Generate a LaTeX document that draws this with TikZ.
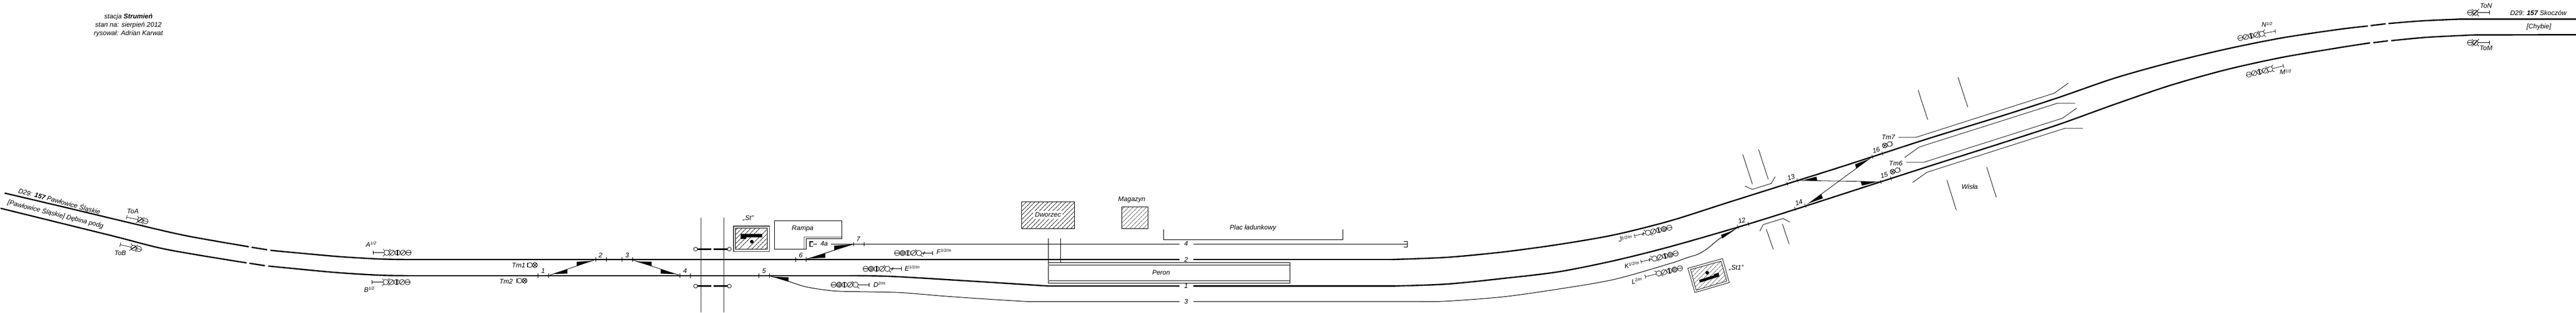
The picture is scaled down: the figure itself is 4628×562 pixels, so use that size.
\documentclass[tikz,border=0pt]{standalone}
\usepackage{fontspec}
\setmainfont{Liberation Sans}
\usetikzlibrary{patterns.meta}

\tikzset{
  trackmain/.style={line width=2.4pt},
  trackthin/.style={line width=1pt},
  planline/.style={line width=.8pt},
  swtick/.style={line width=.7pt},
  sigline/.style={line width=.7pt},
  wedge/.style={fill=black},
  lab/.style={inner sep=0pt},
  hatchbox/.style={line width=.8pt,pattern={Lines[angle=45,distance=5.4pt,line width=.6pt]}},
}

% one lamp of a signal, drawn at the origin of its scope
\newcommand{\lampO}{\draw[sigline] (0,0) circle (4.8pt);}
\newcommand{\lampStubs}{\draw[sigline] (-3.3,-3.3)--(-6.5,-6.5) (3.3,3.3)--(6.5,6.5);}
\newcommand{\lampQ}{\lampO\lampStubs}
\newcommand{\lampX}{\lampO\lampStubs\draw[sigline] (-3.3,3.3)--(-6.5,6.5) (3.3,-3.3)--(6.5,-6.5);}
\newcommand{\lampS}{\lampO\draw[sigline] (-3.8,3.8)--(3.8,-3.8);}
\newcommand{\lampT}{\lampX\draw[line width=1.6pt] (-3.4,3.4)--(3.4,-3.4);}
\newcommand{\lampH}{\lampO\draw[sigline] (-4.8,0)--(4.8,0);}
\newcommand{\lampV}{\lampO\draw[line width=2pt] (0,-4.6)--(0,4.6);}
\newcommand{\lampD}{\draw[sigline,pattern={Lines[angle=45,distance=1.8pt,line width=.6pt]}] (0,0) circle (4.8pt);}
\newcommand{\shuntbar}{\draw[line width=1.2pt] (14.5,2.8)--(17,-2.8);}

% x, y, angle of the mast, then the lamps counted from the mast
\newcommand{\sigchain}[5][]{%
  \begin{scope}[shift={(#2,#3)},rotate=#4]
    \draw[sigline] (0,-3.6)--(0,3.6) (0,0)--(20,0);
    #1
    \foreach \lampdraw [count=\n] in {#5} {
      \begin{scope}[xshift={24.7+(\n-1)*9.8}] \lampdraw \end{scope}
    }
  \end{scope}}

% shunting signal
\newcommand{\tmsig}[3]{%
  \begin{scope}[shift={(#1,#2)},rotate=#3]
    \draw[sigline] (0,-3.6)--(0,3.6);
    \draw[sigline] (4.7,0) circle (4.4pt);
    \draw[line width=.9pt] (13.7,0) circle (4.4pt);
    \draw[line width=.9pt] (10.6,-3.1)--(16.8,3.1) (10.6,3.1)--(16.8,-3.1);
  \end{scope}}

\newcommand{\supr}[2]{#1\raisebox{3.5pt}{\fontsize{7.5}{8}\selectfont #2}}

\begin{document}
\begin{tikzpicture}[x=1pt,y=-1pt,font=\itshape\fontsize{12}{13}\selectfont]
  \useasboundingbox (0,0) rectangle (4628,562);

  % main tracks, upper line
  \draw[trackmain] plot[smooth] coordinates {(8.3,346.7) (120,373) (233,400) (333,423) (447,443)};
  \draw[trackmain] (452,444)--(480,448.5);
  \draw[trackmain] plot[smooth] coordinates {(486,449.5) (600,460) (680,465) (733,466)} -- (2119,466);
  \draw[trackmain] (2144,466)--(2500,466);
  \draw[trackmain] plot[smooth] coordinates {(2500,466) (2600,462) (2700,452.5) (2800,439) (2900,421.7) (3000,396.7) (3100,365) (3211,330) (3300,302) (3363,281.7) (3467,248) (3600,207) (3700,174.5) (3800,140) (3900,112) (4000,88) (4100,68) (4200,53) (4254,46.7)};
  \draw[trackmain] (4259,46)--(4286,42.7);
  \draw[trackmain] plot[smooth] coordinates {(4291,42.3) (4350,37.5) (4421,34.3)} -- (4628,34.3);

  % main tracks, lower line
  \draw[trackmain] plot[smooth] coordinates {(1,374) (200,423) (300,448) (443,472)};
  \draw[trackmain] (448,472.7)--(476,477);
  \draw[trackmain] plot[smooth] coordinates {(482,477.7) (600,489) (680,494) (733,495)};
  \draw[line width=2pt] (733,495)--(1527,495);
  \draw[trackmain] plot[smooth] coordinates {(1527,495) (1600,496.2) (1733,504) (1883,513.5)} -- (2119,513.5);
  \draw[trackmain] (2144,513.5)--(2507,513.5);
  \draw[trackmain] plot[smooth] coordinates {(2507,513.5) (2600,510) (2700,500) (2800,488) (2900,468) (3000,443) (3122,408) (3225,376) (3377,327) (3467,298) (3600,255.7) (3700,223) (3800,187) (3900,153) (4000,125) (4100,103) (4200,86) (4258,77)};
  \draw[trackmain] (4264,76.7)--(4290,73.3);
  \draw[trackmain] plot[smooth] coordinates {(4296,73) (4360,67) (4445,62.7)} -- (4628,62.3);

  % track 3
  \draw[trackthin] plot[smooth] coordinates {(1384,495.7) (1416,505) (1450,515.5) (1500,522.5) (1560,524) (1620,525.5) (1700,532) (1780,537.5) (1850,541.7)} -- (2119,541.7);
  \draw[trackthin] (2144,541.7)--(2550,541.7);
  \draw[trackthin] plot[smooth] coordinates {(2550,541.7) (2600,540.7) (2700,533) (2800,519) (2900,501.7) (3000,473.3) (3033,462) (3050,456.7) (3067,446.7) (3090,428) (3122,408.5)};

  % track 4 and 4a
  \draw[trackthin] (1450,465)--(1533.3,438.3)--(2119,438.3);
  \draw[trackthin] (2144,438.3)--(2528,438.3);
  \draw[trackthin] (1533.3,438.3)--(1493,438.3);
  \draw[trackthin] (1468,438.3)--(1461,438.3);
  \draw[line width=1.3pt] (1461,434)--(1455,434)--(1455,442.8)--(1461,442.8);
  \draw[line width=1.3pt] (2521.7,433.3)--(2528.3,433.3)--(2528.3,443.3)--(2521.7,443.3);

  % connections between the tracks
  \draw[planline] (988,494)--(1067,467);
  \draw[planline] (1136.7,466.7)--(1220,494);
  \draw[planline] (3231.7,324)--(3376.7,326.3);
  \draw[planline] (3247.3,366.7)--(3362.3,282.3);

  \fill[wedge] (993,492)--(1019.3,483.3)--(1019.3,491.3)--cycle
    (1065,468.3)--(1036,470)--(1036,477.7)--cycle
    (1141.7,469.3)--(1170.7,470)--(1170.7,477.7)--cycle
    (1215,492.3)--(1187,483.3)--(1187,491.3)--cycle
    (1388,496.7)--(1416.7,498)--(1416.7,505.7)--cycle
    (1453,464.3)--(1482.7,455)--(1482.7,462.7)--cycle
    (1530,439)--(1498.7,441)--(1498.7,449)--cycle
    (3116.7,412.7)--(3092,421.7)--(3094,428.3)--cycle
    (3240,323.3)--(3263.3,317.3)--(3265,325)--cycle
    (3371.7,326.7)--(3342.7,325.7)--(3345.3,333.3)--cycle
    (3250,365)--(3271.7,348.3)--(3275,356)--cycle
    (3359.3,285)--(3332.7,295)--(3335,302.7)--cycle;

  % switch marks
  \foreach \tx/\ty/\ta in {966.7/495/0,985.3/495/0,1070.3/466/0,1089/466/0,1117.3/466/0,1136/466/0,
    1221.7/495/0,1240.3/495/0,1363.3/495/0,1382/495/0,1429.3/466/0,1448.3/466/0,1533.3/438.3/0,1552/438.3/0,
    3122.3/407.7/16,3141.3/402.3/16,3211/330/17.5,3229.3/324/17.5,3225/375/17.5,3243.3/369.3/17.5,
    3379/326.7/17.5,3397.3/320.7/17.5,3364/281.7/17.5,3382/275.7/17.5}
    \draw[swtick,shift={(\tx,\ty)},rotate=\ta] (0,-3.7)--(0,3.7);

  \foreach \n/\lx/\ly in {1/975.7/486,2/1079/458,3/1126.7/458,4/1230.7/486.7,5/1372.7/486.7,6/1438.7/458,7/1542/429}
    \node[lab] (sw\n) at (\lx,\ly) {\n};
  \foreach \n/\lx/\ly/\la in {12/3129.3/396/16,13/3217.7/318.7/17,14/3231.7/364/17,15/3385/314.7/17,16/3370.7/270/17}
    \node[lab,rotate=\la] (sw\n) at (\lx,\ly) {\n};
  \foreach \n/\ly in {4/437.5,2/466,1/513.5,3/541.5}
    \node[lab] (tr\n) at (2131,\ly) {\n};
  \node[lab] (tr4a) at (1480.7,437.3) {4a};

  % road crossing
  \draw[line width=1pt,black!80] (1259.3,390.7)--(1259.3,560.7) (1300.7,390.7)--(1300.7,560.7);
  \foreach \gy in {447.3,513.7} {
    \draw[line width=3.2pt] (1253.3,\gy)--(1278,\gy) (1282,\gy)--(1306.7,\gy);
    \draw[line width=.8pt,fill=white] (1249.7,\gy) circle (3.5pt) (1310.3,\gy) circle (3.5pt);
  }

  % St box
  \draw[line width=1.2pt,black!75] (1318,406) rectangle (1382.3,451.3);
  \draw[hatchbox] (1321.3,409.3) rectangle (1378.7,447.3);
  \fill (1330.7,420) rectangle (1369.3,426) (1330.7,426) rectangle (1340.7,429);
  \fill (1350.7,434) circle (3.3pt);
  \node[lab] (lblSt) at (1344.3,391.7) {„St”};

  % Rampa
  \draw[planline] (1391.7,396.3)--(1512.3,396.3)--(1512.3,428.7)--(1448.3,428.7)--(1448.3,447.3)--(1391.7,447.3)--cycle;
  \draw[line width=1pt,black!60] (1512.3,425)--(1444.7,425)--(1444.7,447.3);
  \node[lab] (lblRampa) at (1442,411) {Rampa};

  % buildings
  \draw[hatchbox] (1835.7,362.3) rectangle (1930,410);
  \node[lab,fill=white,inner sep=3pt] (lblDworzec) at (1882.7,385.7) {Dworzec};
  \draw[hatchbox] (2015,371.3) rectangle (2062.7,410);
  \node[lab] (lblMagazyn) at (2033.3,359) {Magazyn};

  % Plac
  \draw[planline] (2090.7,411.7)--(2090.7,430)--(2412.3,430)--(2412.3,411.7);
  \node[lab] (lblPlac) at (2251,409) {Plac ładunkowy};

  % Peron
  \draw[planline] (1883,428.3)--(1883,508.3)--(2317.3,508.3)--(2317.3,471.7)--(1883,471.7);
  \draw[planline] (1905.3,428.3)--(1905.3,471.7);
  \draw[line width=1.2pt,black!55] (1883,476)--(2317.3,476) (1883,504)--(2317.3,504);
  \node[lab] (lblPeron) at (2086,489.3) {Peron};

  % St1 box
  \draw[planline] (3032.3,481.7)--(3094.7,464.3)--(3106.7,507.3)--(3045,525.3)--cycle;
  \draw[hatchbox] (3037.3,484)--(3092,469)--(3102.3,504.7)--(3047.3,521)--cycle;
  \draw[line width=5pt] (3053.3,505)--(3088.3,494);
  \draw[line width=3pt] (3079,494)--(3088,491);
  \fill (3067,489.7) circle (3.3pt);
  \node[lab] (lblStOne) at (3119.3,481.3) {„St1”};

  % road at the east end
  \draw[planline] (3131,277.4)--(3148.3,330.7) (3159.4,268.4)--(3176.7,321.7);
  \draw[planline] (3135,334.3)--(3148.3,340)--(3182.3,329.3)--(3189.3,317.3);
  \draw[planline] (3161.7,415)--(3167.7,403.3)--(3203.3,392.3)--(3215.7,398.7);
  \draw[planline] (3173.3,411.7)--(3185.7,447.3) (3202.3,402.3)--(3214.3,438.3);

  % bridge over the river
  \draw[planline] (3410.5,246.7)--(3441.9,246.7)--(3690.6,167.3)--(3715.9,149.3);
  \draw[planline] (3422,282.7)--(3448,264)--(3696.4,185.3)--(3728,185.3);
  \draw[planline] (3424.6,291.3)--(3456.4,291.3)--(3705.2,212.3)--(3730.8,194.3);
  \draw[planline] (3436,327.7)--(3462,309.3)--(3710,230.3)--(3742,230.3);
  \draw[planline] (3446,161.7)--(3463.3,215) (3517.6,138.3)--(3535.2,192.3);
  \draw[planline] (3497.7,323.3)--(3514.6,377.3) (3569.3,300.3)--(3586.5,354.3);
  \node[lab] (lblWisla) at (3538.7,335) {Wisła};

  % signals
  \sigchain{227.7}{390}{-12}{\lampT,\lampH}
  \sigchain{216}{439.3}{-13}{\lampT,\lampH}
  \sigchain{670}{453.7}{0}{\lampX,\lampS,\lampV,\lampS,\lampH}
  \sigchain{668.3}{506.5}{0}{\lampX,\lampS,\lampV,\lampS,\lampH}
  \sigchain{1561.7}{511.3}{180}{\lampQ,\lampS,\lampV,\lampD,\lampH}
  \sigchain[\shuntbar]{1619}{482.7}{180}{\lampQ,\lampS,\lampV,\lampD,\lampH}
  \sigchain[\shuntbar]{1675.7}{454.3}{180}{\lampQ,\lampS,\lampV,\lampD,\lampH}
  \sigchain[\shuntbar]{2936.7}{423.3}{13}{\lampQ,\lampS,\lampV,\lampD,\lampH}
  \sigchain[\shuntbar]{2948.3}{470}{13.5}{\lampQ,\lampS,\lampV,\lampD,\lampH}
  \sigchain{2956}{496.7}{13.5}{\lampQ,\lampS,\lampV,\lampD,\lampH}
  \sigchain{4087.7}{56}{191}{\lampX,\lampS,\lampV,\lampS,\lampH}
  \sigchain{4102.3}{118.3}{194}{\lampX,\lampS,\lampV,\lampS,\lampH}
  \sigchain{4472}{22.7}{180}{\lampT,\lampH}
  \sigchain{4472}{76.7}{180}{\lampT,\lampH}

  \tmsig{947.3}{476}{0}
  \tmsig{928.7}{504}{0}
  \tmsig{3399.3}{257.3}{196.5}
  \tmsig{3413.3}{304.3}{196.5}

  % signal names
  \node[lab] (lblToA) at (238.7,379) {ToA};
  \node[lab] (lblToB) at (216,454.3) {ToB};
  \node[lab] (lblA) at (666.7,439) {\supr{A}{1/2}};
  \node[lab] (lblB) at (663.3,520) {\supr{B}{1/2}};
  \node[lab] (lblD) at (1580,511) {\supr{D}{2/m}};
  \node[lab] (lblE) at (1638.7,481.7) {\supr{E}{1/2/m}};
  \node[lab] (lblF) at (1695.7,451.7) {\supr{F}{1/2/m}};
  \node[lab,rotate=10] (lblJ) at (2920,428.3) {\supr{J}{1/2/m}};
  \node[lab,rotate=10] (lblK) at (2931.7,475.7) {\supr{K}{1/2/m}};
  \node[lab,rotate=10] (lblL) at (2940.7,504.3) {\supr{L}{2/m}};
  \node[lab] (lblN) at (4072.7,44.3) {\supr{N}{1/2}};
  \node[lab] (lblM) at (4106,129.3) {\supr{M}{1/2}};
  \node[lab] (lblToN) at (4466.3,10) {ToN};
  \node[lab] (lblToM) at (4466.3,86) {ToM};
  \node[lab] (lblTmOne) at (931.7,476.7) {Tm1};
  \node[lab] (lblTmTwo) at (909.3,505) {Tm2};
  \node[lab] (lblTmSeven) at (3392.5,246.7) {Tm7};
  \node[lab] (lblTmSix) at (3405.9,293.7) {Tm6};

  % line names
  \node[lab,rotate=-15] (lblWest) at (106.7,361.7) {D29: \textbf{157} Pawłowice Śląskie};
  \node[lab,rotate=-14] (lblWestTwo) at (100,384.3) {[Pawłowice Śląskie] Dębina podg};
  \node[lab] (lblEast) at (4560.3,23.3) {D29: \textbf{157} Skoczów};
  \node[lab] (lblEastTwo) at (4561.3,48) {[Chybie]};

  % title
  \node[lab] (lblStacja) at (230.8,30.8) {stacja \textbf{Strumień}};
  \node[lab] (lblStan) at (230.8,45) {stan na: sierpień 2012};
  \node[lab] (lblRys) at (230.8,60) {rysował: Adrian Karwat};
\end{tikzpicture}
\end{document}
